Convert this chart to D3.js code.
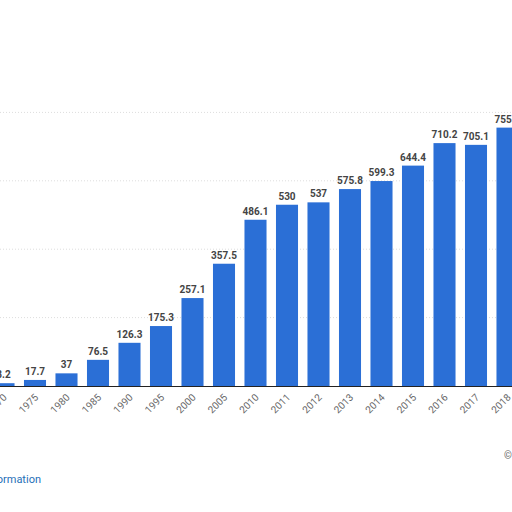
<!DOCTYPE html>
<html>
<head>
<meta charset="utf-8">
<script src="https://cdn.jsdelivr.net/npm/d3@7"></script>
<style>
  body { margin: 0; background: #fff; }
  svg { font-family: Roboto, "Open Sans", sans-serif; }
</style>
</head>
<body>
<svg width="512" height="512"></svg>
<script>
var years = ['1970', '1975', '1980', '1985', '1990', '1995', '2000', '2005', '2010',
  '2011', '2012', '2013', '2014', '2015', '2016', '2017', '2018'];
var values = [8.2, 17.7, 37, 76.5, 126.3, 175.3, 257.1, 357.5, 486.1,
  530, 537, 575.8, 599.3, 644.4, 710.2, 705.1, 755.5];
var gridTicks = [200, 400, 600, 800];

var svg = d3.select('svg');
var baseY = 386;

var x = d3.scaleBand().domain(years)
  .range([-12.25, -12.25 + 31.5 * years.length])
  .paddingInner(0.3).paddingOuter(0.15);
var y = d3.scaleLinear().domain([0, 800]).range([baseY, baseY - 800 * 0.342]);

// grid
svg.append('g').selectAll('line').data(gridTicks).enter().append('line')
  .attr('x1', 0).attr('x2', 512)
  .attr('y1', function (d) { return y(d); }).attr('y2', function (d) { return y(d); })
  .attr('stroke', '#ddd').attr('stroke-dasharray', '1,2');

// bars
svg.append('g').selectAll('rect').data(values).enter().append('rect')
  .attr('x', function (d, i) { return x(years[i]); })
  .attr('width', x.bandwidth())
  .attr('y', function (d) { return y(d); })
  .attr('height', function (d) { return baseY - y(d); })
  .attr('fill', '#2b6fd6');

// value labels
svg.append('g').selectAll('text').data(values).enter().append('text')
  .attr('x', function (d, i) { return x(years[i]) + x.bandwidth() / 2; })
  .attr('y', function (d) { return y(d) - 5; })
  .attr('text-anchor', 'middle')
  .attr('font-size', 10).attr('font-weight', 'bold').attr('fill', '#444')
  .text(function (d) { return d; });

// axis
svg.append('line').attr('x1', 0).attr('x2', 512)
  .attr('y1', baseY + 0.5).attr('y2', baseY + 0.5).attr('stroke', '#222');

svg.append('g').selectAll('text').data(years).enter().append('text')
  .attr('transform', function (d) {
    return 'translate(' + (x(d) + x.bandwidth() / 2 + 4) + ',' + (baseY + 12) + ') rotate(-45)';
  })
  .attr('text-anchor', 'end')
  .attr('font-size', 10).attr('fill', '#666')
  .text(function (d) { return d; });

// footer
svg.append('text').attr('x', 41).attr('y', 483).attr('text-anchor', 'end')
  .attr('font-size', 11).attr('fill', '#1f6fb8').text('Additional Information');
svg.append('text').attr('x', 504).attr('y', 459)
  .attr('font-size', 10).attr('fill', '#666').text('©');
</script>
</body>
</html>
